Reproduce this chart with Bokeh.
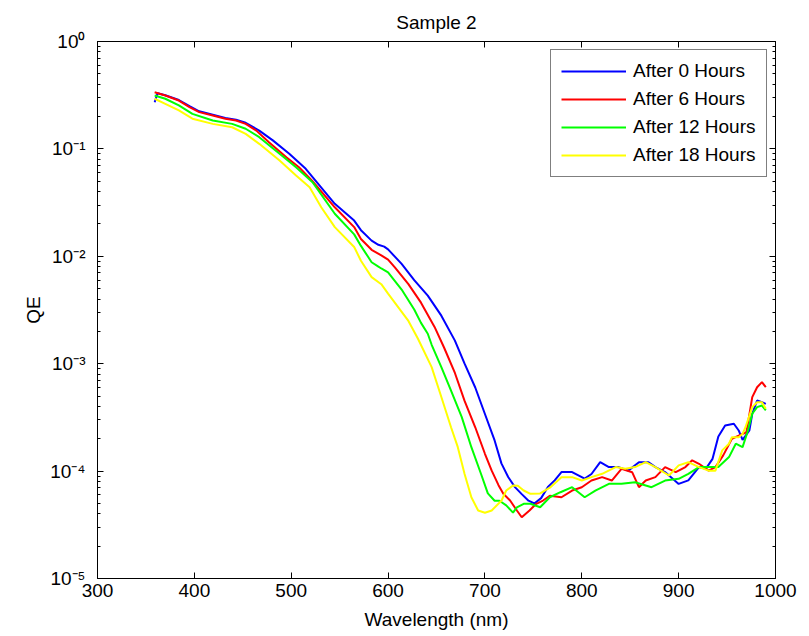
from bokeh.plotting import figure
from bokeh.models import (LogAxis, LinearAxis, FixedTicker, CustomJSTickFormatter,
                          Legend, LegendItem, Range1d)
from bokeh.embed import file_html
from bokeh.resources import INLINE

FONT = "Liberation Sans"

# ---------------- data ----------------
series_labels = ["After 0 Hours", "After 6 Hours", "After 12 Hours", "After 18 Hours"]
series_colors = ["#0000ff", "#ff0000", "#00ff00", "#ffff00"]

wl_0h = [359, 362, 370, 384, 395, 405, 419, 432, 443, 453, 467, 481, 498, 515, 545,
         565, 572, 583, 590, 596, 600, 614, 627, 641, 655, 669, 679, 690, 700, 710,
         717, 724, 731, 738, 745, 751, 758, 765, 772, 779, 790, 803, 810, 819, 828,
         838, 848, 859, 869, 876, 886, 900, 910, 921, 928, 935, 941, 948, 957, 962,
         966, 973, 976, 981, 986, 990]
qe_0h = [0.272, 0.330, 0.316, 0.285, 0.250, 0.224, 0.208, 0.194, 0.187, 0.175, 0.148,
         0.120, 0.090, 0.0653, 0.0308, 0.0215, 0.0175, 0.0140, 0.0128, 0.0123, 0.0116,
         0.0085, 0.0060, 0.0043, 0.0028, 0.00164, 0.00100, 0.00060, 0.00034, 0.000193,
         0.000118, 8.8e-5, 7.1e-5, 6.1e-5, 5.3e-5, 5.0e-5, 5.6e-5, 7.1e-5, 8.2e-5,
         9.8e-5, 9.8e-5, 8.5e-5, 9.4e-5, 1.21e-4, 1.09e-4, 1.09e-4, 1.01e-4, 1.21e-4,
         1.21e-4, 1.09e-4, 9.8e-5, 7.6e-5, 8.2e-5, 1.09e-4, 1.05e-4, 1.3e-4, 2.1e-4,
         2.66e-4, 2.76e-4, 2.39e-4, 1.95e-4, 2.39e-4, 3.42e-4, 4.54e-4, 4.38e-4, 4.23e-4]

wl_6h = [359, 370, 384, 395, 405, 419, 432, 443, 453, 464, 477, 495, 508, 522, 545,
         565, 572, 583, 593, 600, 607, 621, 634, 648, 658, 669, 679, 690, 700, 707,
         714, 719, 726, 733, 738, 746, 753, 760, 767, 779, 790, 800, 810, 821, 831,
         841, 852, 859, 866, 876, 886, 897, 907, 914, 921, 931, 938, 946, 955, 965,
         970, 976, 981, 986, 990]
qe_6h = [0.337, 0.314, 0.282, 0.245, 0.220, 0.205, 0.191, 0.184, 0.171, 0.148, 0.1155,
         0.0837, 0.0676, 0.050, 0.0286, 0.0187, 0.0145, 0.0115, 0.0102, 0.0093, 0.0079,
         0.0055, 0.0037, 0.0022, 0.0014, 0.00082, 0.00045, 0.000256, 0.000145,
         0.000101, 7.4e-5, 6.15e-5, 5.32e-5, 4.3e-5, 3.72e-5, 4.3e-5, 4.96e-5, 5.32e-5,
         5.9e-5, 5.71e-5, 6.59e-5, 7.08e-5, 8.17e-5, 8.78e-5, 8.17e-5, 1.05e-4,
         9.77e-5, 7.08e-5, 8.17e-5, 8.78e-5, 1.09e-4, 9.77e-5, 1.09e-4, 1.26e-4,
         1.17e-4, 1.01e-4, 1.09e-4, 1.4e-4, 2.0e-4, 2.2e-4, 2.3e-4, 4.88e-4, 6.04e-4,
         6.73e-4, 6.04e-4]

wl_12h = [359, 370, 384, 398, 419, 439, 453, 467, 488, 505, 522, 545, 565, 572, 579,
          583, 590, 593, 600, 614, 627, 634, 641, 645, 655, 665, 676, 686, 696, 703,
          710, 715, 722, 729, 733, 740, 747, 757, 767, 778, 790, 803, 814, 828, 841,
          855, 872, 886, 900, 910, 921, 931, 941, 952, 959, 966, 971, 976, 981, 986,
          990]
qe_12h = [0.314, 0.293, 0.254, 0.212, 0.184, 0.171, 0.154, 0.1285, 0.090, 0.0676,
          0.049, 0.0249, 0.0160, 0.0125, 0.0100, 0.0088, 0.0080, 0.0077, 0.0071,
          0.0049, 0.0032, 0.0024, 0.0019, 0.0015, 0.00093, 0.00056, 0.00032,
          0.000167, 9.4e-5, 6.2e-5, 5.3e-5, 5.3e-5, 4.8e-5, 4.1e-5, 4.6e-5, 4.96e-5,
          4.96e-5, 4.61e-5, 5.71e-5, 6.36e-5, 7.08e-5, 5.71e-5, 6.59e-5, 7.62e-5,
          7.62e-5, 7.88e-5, 7.08e-5, 8.17e-5, 8.48e-5, 9.44e-5, 1.09e-4, 1.09e-4,
          1.09e-4, 1.35e-4, 1.8e-4, 1.67e-4, 2.3e-4, 3.42e-4, 3.94e-4, 4.08e-4, 3.67e-4]

wl_18h = [359, 370, 384, 398, 419, 439, 453, 467, 488, 505, 519, 531, 545, 565, 572,
          583, 593, 600, 610, 621, 631, 645, 655, 665, 672, 679, 686, 693, 700, 707,
          717, 722, 729, 734, 740, 747, 757, 767, 779, 790, 800, 810, 821, 835, 845,
          855, 866, 876, 890, 900, 910, 921, 931, 938, 945, 952, 955, 962, 966, 969,
          976, 981, 986, 990]
qe_18h = [0.293, 0.263, 0.228, 0.191, 0.171, 0.159, 0.138, 0.1115, 0.078, 0.0565,
          0.044, 0.0286, 0.0187, 0.0122, 0.0091, 0.0064, 0.0055, 0.0045, 0.0034,
          0.0025, 0.0017, 0.00093, 0.00049, 0.000256, 0.000167, 9.4e-5, 5.7e-5,
          4.3e-5, 4.1e-5, 4.3e-5, 5.3e-5, 6.6e-5, 7.35e-5, 7.3e-5, 6.6e-5, 6.15e-5,
          6.2e-5, 7.0e-5, 8.78e-5, 8.78e-5, 8.17e-5, 8.78e-5, 9.44e-5, 1.09e-4,
          1.05e-4, 1.09e-4, 1.21e-4, 1.09e-4, 9.1e-5, 1.13e-4, 1.21e-4, 1.09e-4,
          1.01e-4, 1.01e-4, 1.56e-4, 1.8e-4, 2.07e-4, 2.07e-4, 2.22e-4, 2.56e-4,
          3.94e-4, 4.38e-4, 4.38e-4, 3.8e-4]

x_ticks = [300, 400, 500, 600, 700, 800, 900, 1000]
y_decades = [1e-5, 1e-4, 1e-3, 1e-2, 1e-1, 1e0]
y_minor = [m * d for d in y_decades[:-1] for m in range(2, 10)]

# ---------------- figure ----------------
p = figure(width=805, height=636, y_axis_type="log",
           x_range=Range1d(300, 1000), y_range=Range1d(1e-5, 1),
           output_backend="svg", toolbar_location=None,
           min_border_left=97, min_border_right=30, min_border_top=41,
           min_border_bottom=58, title="Sample 2")

p.title.align = "center"
p.title.text_font = FONT
p.title.text_font_size = "19px"
p.title.text_font_style = "normal"
p.title.text_color = "black"
p.title.vertical_align = "top"
p.title.standoff = 14

p.xgrid.visible = False
p.ygrid.visible = False
p.outline_line_color = "black"
p.outline_line_width = 1
p.background_fill_color = "white"
p.border_fill_color = "white"

xticker = FixedTicker(ticks=x_ticks, minor_ticks=[])
yticker = FixedTicker(ticks=y_decades, minor_ticks=y_minor)

sup_fmt = CustomJSTickFormatter(code=r"""
const sup = {"-": "\u207b", "0": "\u2070", "1": "\u00b9", "2": "\u00b2", "3": "\u00b3",
             "4": "\u2074", "5": "\u2075", "6": "\u2076", "7": "\u2077", "8": "\u2078",
             "9": "\u2079"};
const e = Math.round(Math.log10(tick));
return "10" + String(e).split("").map(c => sup[c]).join("");
""")
blank_fmt = CustomJSTickFormatter(code="return '';")


def style_axis(ax):
    ax.axis_line_color = "black"
    ax.major_tick_line_color = "black"
    ax.minor_tick_line_color = "black"
    ax.major_tick_in = 6
    ax.major_tick_out = 0
    ax.minor_tick_in = 3
    ax.minor_tick_out = 0
    ax.major_label_text_font = FONT
    ax.major_label_text_font_size = "19px"
    ax.major_label_text_color = "black"
    ax.axis_label_text_font = FONT
    ax.axis_label_text_font_size = "19px"
    ax.axis_label_text_font_style = "normal"
    ax.axis_label_text_color = "black"


xa = p.xaxis[0]
xa.ticker = xticker
xa.axis_label = "Wavelength (nm)"
style_axis(xa)
xa.major_label_standoff = 5
xa.axis_label_standoff = 9

ya = p.yaxis[0]
ya.ticker = yticker
ya.formatter = sup_fmt
ya.axis_label = "QE"
style_axis(ya)
ya.major_label_standoff = 12
ya.axis_label_standoff = 3

top = LinearAxis(ticker=xticker, formatter=blank_fmt)
style_axis(top)
top.major_label_text_font_size = "1px"
top.major_label_standoff = 0
p.add_layout(top, "above")

right = LogAxis(ticker=yticker, formatter=blank_fmt)
style_axis(right)
right.major_label_text_font_size = "1px"
right.major_label_standoff = 0
p.add_layout(right, "right")

# ---------------- lines ----------------
renderers = []
for wl, qe, col in zip([wl_0h, wl_6h, wl_12h, wl_18h],
                       [qe_0h, qe_6h, qe_12h, qe_18h], series_colors):
    renderers.append(p.line(wl, qe, line_color=col, line_width=2))

legend = Legend(items=[LegendItem(label=lab, renderers=[r])
                       for lab, r in zip(series_labels, renderers)],
                location=(453, 401), orientation="vertical",
                glyph_width=65, glyph_height=20, label_height=20,
                label_standoff=7, padding=10, spacing=6, margin=0,
                border_line_color="black", border_line_width=1,
                background_fill_color="white", background_fill_alpha=1,
                label_text_font=FONT, label_text_font_size="19px",
                label_text_color="black")
p.add_layout(legend, "center")

open("out.html", "w").write(file_html(p, INLINE))
